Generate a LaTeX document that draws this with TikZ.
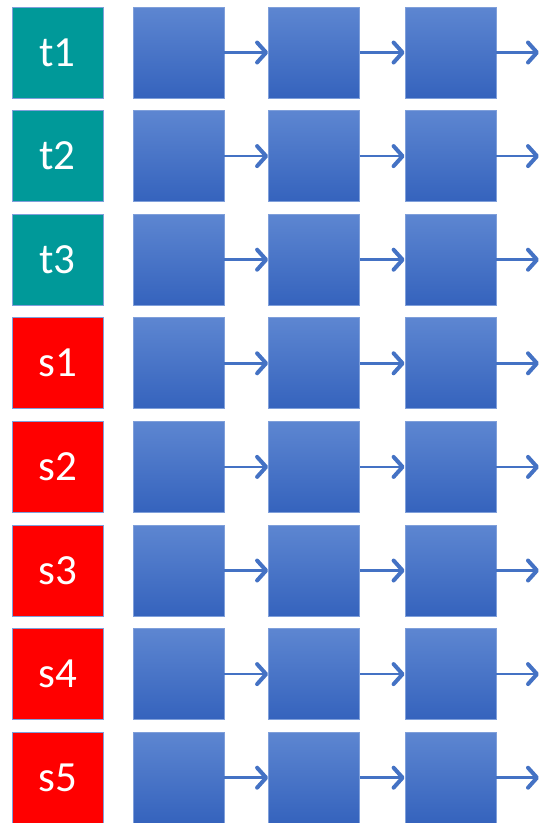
\documentclass[tikz,border=0pt]{standalone}
\usepackage{fontspec}
\setmainfont{Carlito}
\usetikzlibrary{arrows.meta}
\definecolor{tealbox}{HTML}{009999}
\definecolor{redbox}{HTML}{FF0000}
\definecolor{boxline}{HTML}{7F9FDA}
\definecolor{celltop}{HTML}{5D86D1}
\definecolor{cellbot}{HTML}{3563BD}
\definecolor{arrowcol}{HTML}{4472C4}
\begin{document}
\begin{tikzpicture}[x=1pt,y=-1pt,
  labelbox/.style={draw=boxline, line width=0.8pt, minimum width=91pt, minimum height=91pt, inner sep=0pt, text=white, font=\fontsize{43}{43}\selectfont},
  cell/.style={draw=boxline, line width=0.8pt, top color=celltop, bottom color=cellbot, minimum width=91pt, minimum height=91pt, inner sep=0pt},
  arr/.style={draw=arrowcol, line width=2.6pt, -{Straight Barb[length=9pt,width=20pt,line width=4pt,round]}}]
\useasboundingbox (0,0) rectangle (541,823);
\foreach \lab/\col [count=\i from 0] in {t1/tealbox,t2/tealbox,t3/tealbox,s1/redbox,s2/redbox,s3/redbox,s4/redbox,s5/redbox}{
  \pgfmathsetmacro\yy{52.5+\i*103.6}
  \node[labelbox, fill=\col] (L\i) at (57.5,\yy) {\lab};
  \node[cell] (C\i-1) at (178.5,\yy) {};
  \node[cell] (C\i-2) at (314,\yy) {};
  \node[cell] (C\i-3) at (450.5,\yy) {};
  \coordinate (E\i) at (539,\yy);
  \draw[arr] (C\i-1.east) -- (C\i-2.west);
  \draw[arr] (C\i-2.east) -- (C\i-3.west);
  \draw[arr] (C\i-3.east) -- (E\i);
}
\end{tikzpicture}
\end{document}
